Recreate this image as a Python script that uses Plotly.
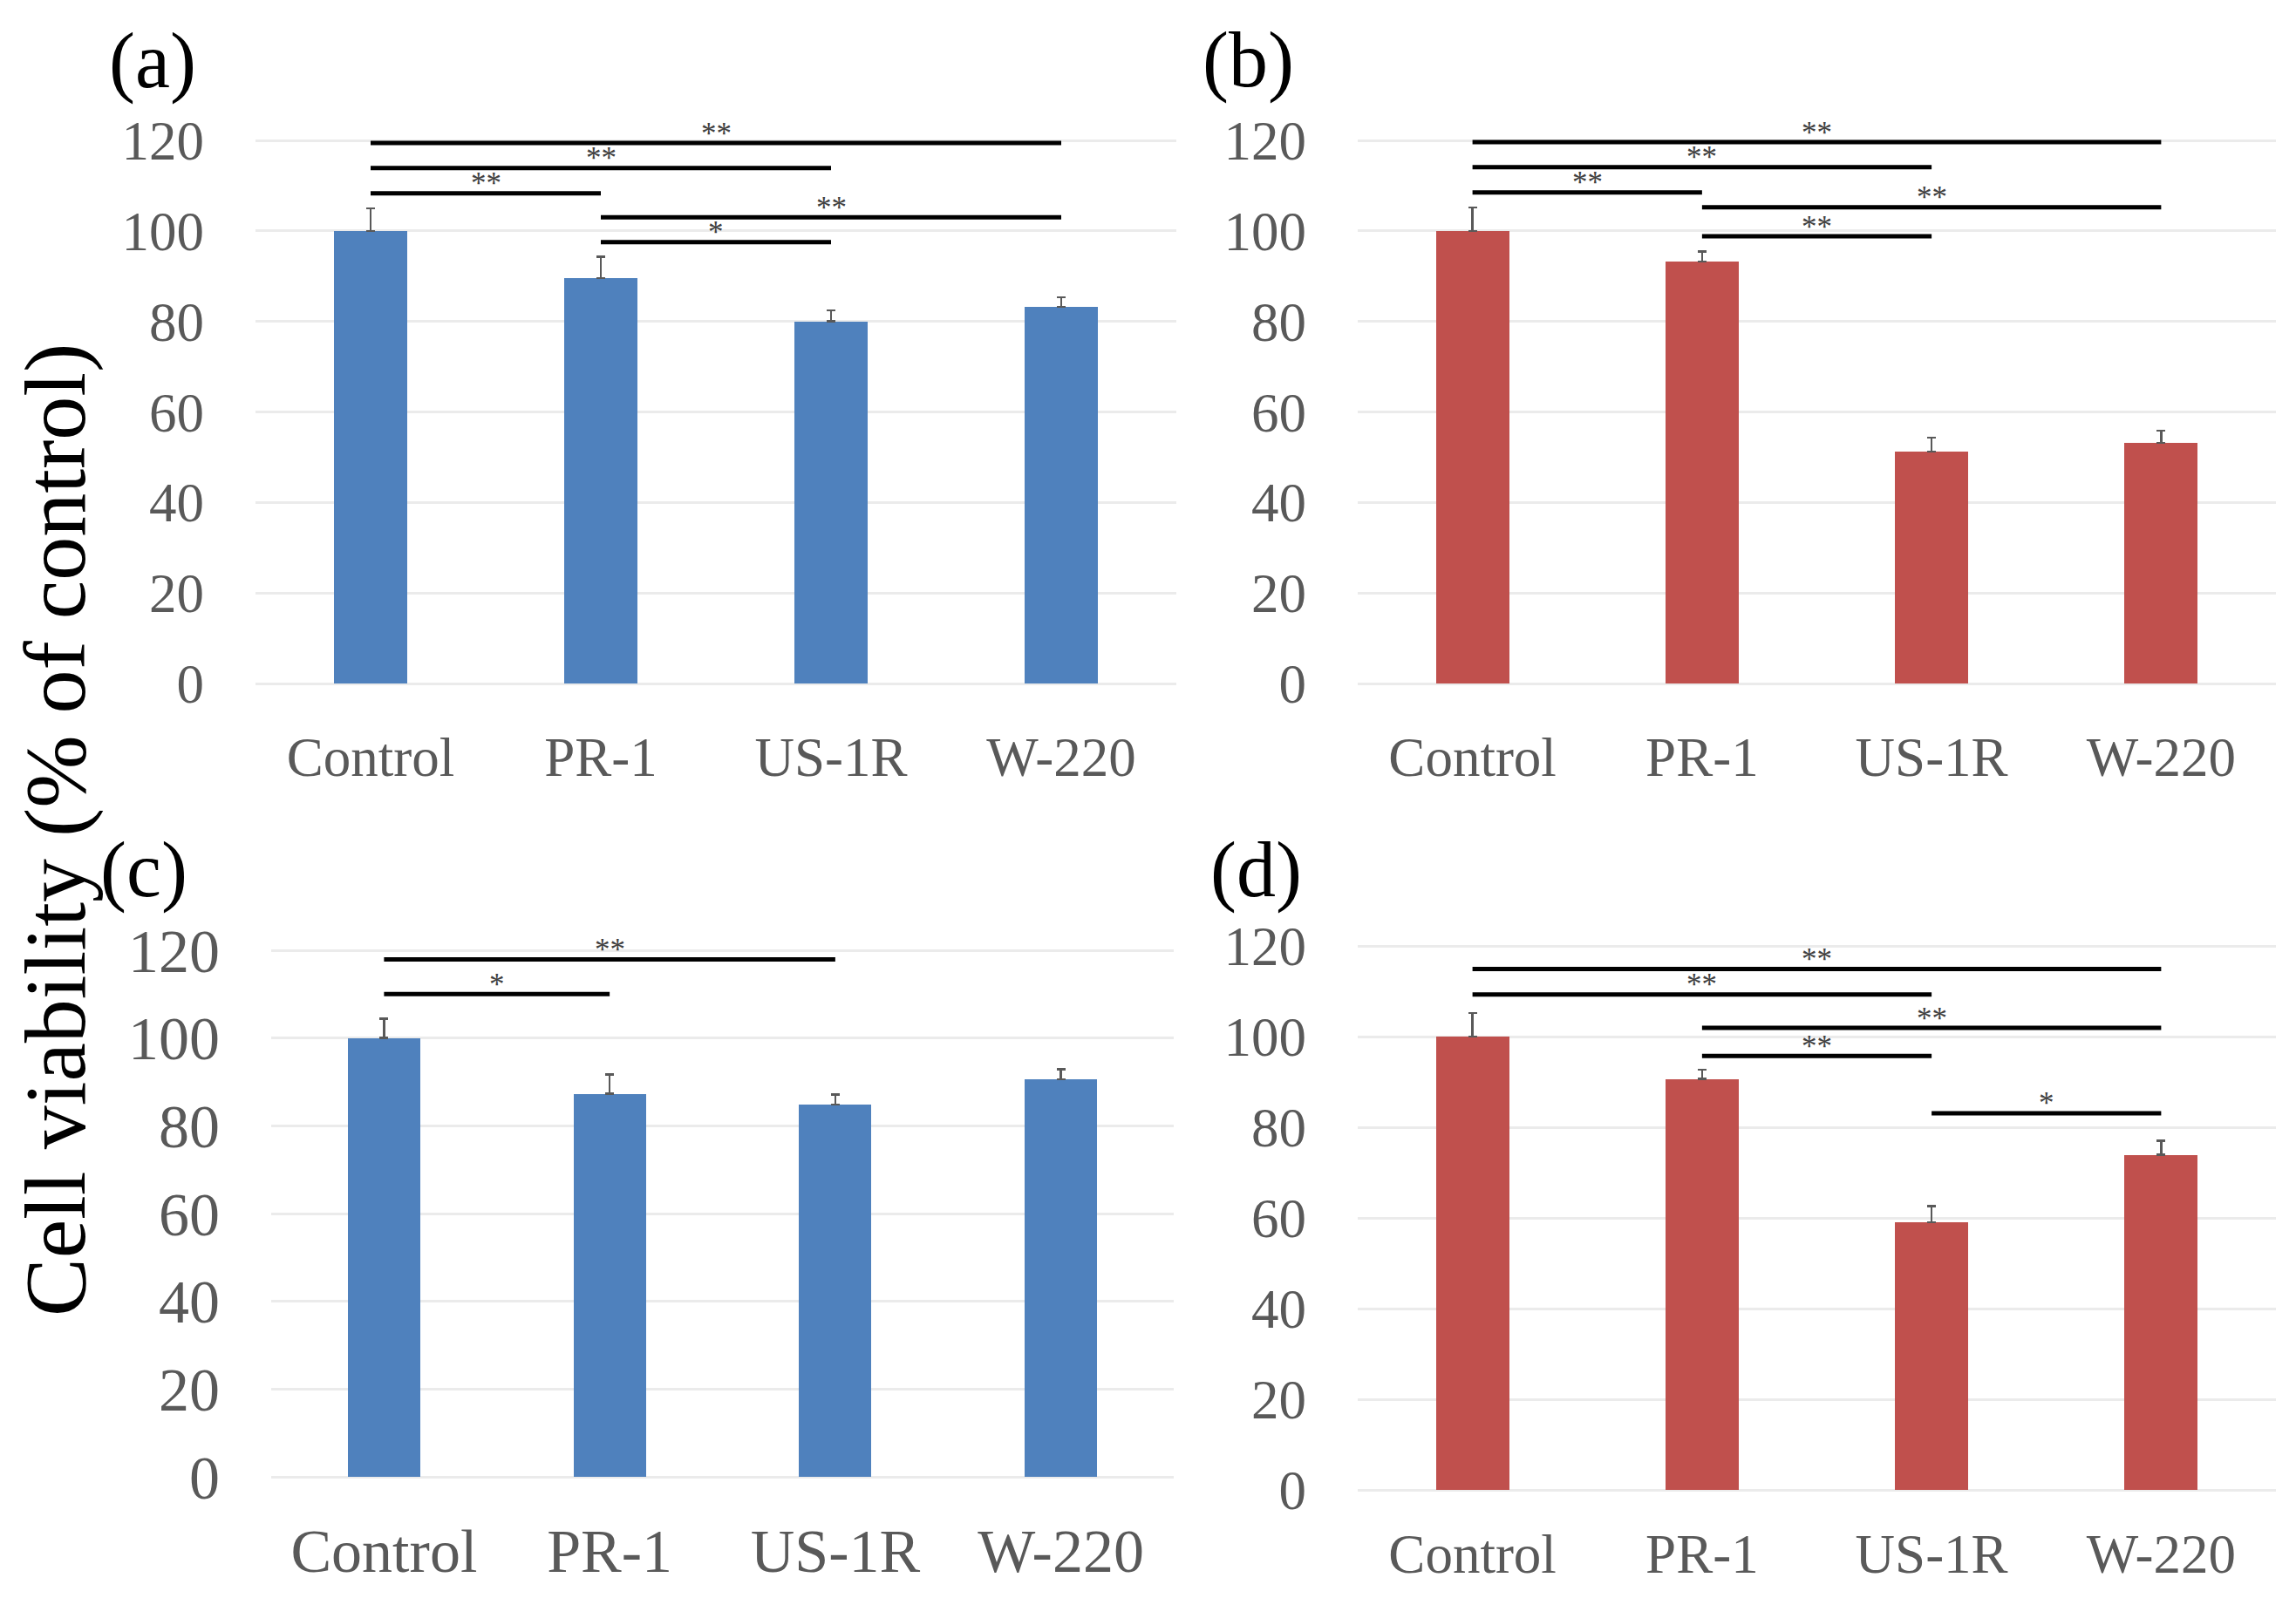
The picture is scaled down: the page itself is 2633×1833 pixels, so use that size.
import plotly.graph_objects as go

# the page body has an 8px margin, so the figure is drawn 16px smaller and
# every pixel position below is shifted by OFF
W, H = 2633, 1833
OFF = 8
FW, FH = W - 2 * OFF, H - 2 * OFF

categories = ['Control', 'PR-1', 'US-1R', 'W-220']
y_ticks = [0, 20, 40, 60, 80, 100, 120]

# mean cell viability (% of control) and upper error bars per panel
a_vals = [100, 89.6, 80.0, 83.2]
a_err = [5.0, 4.7, 2.4, 2.1]
b_vals = [100, 93.2, 51.2, 53.2]
b_err = [5.2, 2.2, 3.1, 2.7]
c_vals = [100, 87.3, 84.8, 90.6]
c_err = [4.4, 4.4, 2.3, 2.3]
d_vals = [100, 90.7, 59.0, 73.9]
d_err = [5.2, 2.0, 3.6, 3.1]

# significance brackets: (from category, to category, height, label)
a_sig = [(0, 3, 119.4, '**'), (0, 2, 113.9, '**'), (0, 1, 108.3, '**'),
         (1, 3, 103.0, '**'), (1, 2, 97.5, '*')]
b_sig = [(0, 3, 119.6, '**'), (0, 2, 114.1, '**'), (0, 1, 108.5, '**'),
         (1, 3, 105.2, '**'), (1, 2, 98.8, '**')]
c_sig = [(0, 2, 117.9, '**'), (0, 1, 110.0, '*')]
d_sig = [(0, 3, 114.9, '**'), (0, 2, 109.3, '**'), (1, 3, 101.9, '**'),
         (1, 2, 95.7, '**'), (2, 3, 83.1, '*')]

panel_labels = ['(a)', '(b)', '(c)', '(d)']
y_title = 'Cell viability (% of control)'

BLUE = '#4F81BD'
RED = '#C0504D'
FONT = 'Liberation Serif'
YMAX = 126

# pixel geometry of each plot area: left, right, y of 0, y of 120,
# tick font size, x label standoff, panel label centre
panels = [
    dict(vals=a_vals, err=a_err, sig=a_sig, color=BLUE, l=293, r=1349, y0=784, y120=161, fs=63, so=42, lab=(175, 70)),
    dict(vals=b_vals, err=b_err, sig=b_sig, color=RED, l=1557, r=2610, y0=784, y120=161, fs=63, so=42, lab=(1431, 69)),
    dict(vals=c_vals, err=c_err, sig=c_sig, color=BLUE, l=311, r=1346, y0=1694, y120=1090, fs=70, so=38, lab=(165, 998)),
    dict(vals=d_vals, err=d_err, sig=d_sig, color=RED, l=1557, r=2610, y0=1709, y120=1085, fs=63, so=31, lab=(1440, 998)),
]


def px_x(x):
    return (x - OFF) / FW


def px_y(y):
    return 1 - (y - OFF) / FH


fig = go.Figure()
annotations = []

for i, p in enumerate(panels):
    n = '' if i == 0 else str(i + 1)
    xa, ya = 'x' + n, 'y' + n
    ppu = (p['y0'] - p['y120']) / 120.0
    top_px = p['y0'] - YMAX * ppu

    fig.add_trace(go.Bar(x=categories, y=p['vals'], xaxis=xa, yaxis=ya,
                         marker=dict(color=p['color'], line=dict(width=0)),
                         width=0.32, showlegend=False, hoverinfo='skip',
                         error_y=dict(type='data', symmetric=False, array=p['err'],
                                      arrayminus=[0] * len(p['err']),
                                      color='#595959', thickness=2.5, width=5)))

    for (a, b, h, txt) in p['sig']:
        fig.add_trace(go.Scatter(x=[categories[a], categories[b]], y=[h, h], xaxis=xa, yaxis=ya,
                                 mode='lines', line=dict(color='black', width=5),
                                 cliponaxis=False, showlegend=False, hoverinfo='skip'))
        annotations.append(dict(x=(a + b) / 2, y=h, xref=xa, yref=ya, text=txt,
                                showarrow=False, yanchor='middle', yshift=11,
                                font=dict(family=FONT, size=35, color='#404040')))

    axis_x = dict(domain=[px_x(p['l']), px_x(p['r'])], anchor=ya, type='category',
                  range=[-0.5, 3.5], showgrid=False, zeroline=False, showline=False,
                  ticks='', ticklabelstandoff=p['so'], automargin=False,
                  tickfont=dict(family=FONT, size=p['fs'], color='#595959'))
    axis_y = dict(domain=[px_y(p['y0']), px_y(top_px)], anchor=xa,
                  range=[0, YMAX], tickvals=y_ticks, ticktext=[str(t) for t in y_ticks],
                  showgrid=True, gridcolor='#EBEBEB', gridwidth=2.5,
                  zeroline=True, zerolinecolor='#EBEBEB', zerolinewidth=2.5,
                  showline=False, ticks='', ticklabelstandoff=58, automargin=False,
                  tickfont=dict(family=FONT, size=p['fs'], color='#595959'))
    fig.update_layout({'xaxis' + n: axis_x, 'yaxis' + n: axis_y})

    annotations.append(dict(x=px_x(p['lab'][0]), y=px_y(p['lab'][1]), xref='paper', yref='paper',
                            text=panel_labels[i], showarrow=False,
                            xanchor='center', yanchor='middle',
                            font=dict(family=FONT, size=90, color='black')))

annotations.append(dict(x=px_x(64), y=px_y(952), xref='paper', yref='paper',
                        text=y_title, textangle=-90, showarrow=False,
                        xanchor='center', yanchor='middle',
                        font=dict(family=FONT, size=100, color='black')))

fig.update_layout(width=FW, height=FH, margin=dict(l=0, r=0, t=0, b=0),
                  paper_bgcolor='white', plot_bgcolor='white',
                  annotations=annotations, bargap=0)

fig.write_html("out.html")
